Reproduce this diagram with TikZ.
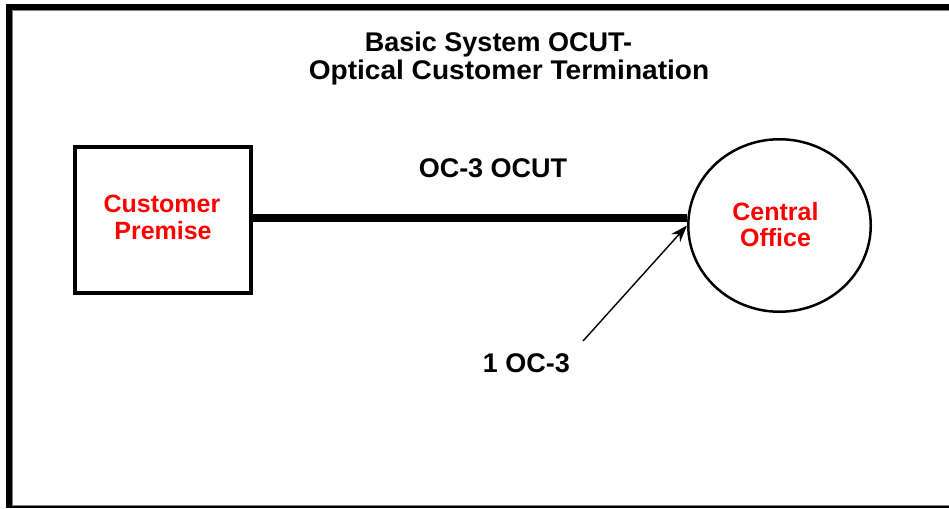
\documentclass[tikz,border=0pt]{standalone}
\usepackage{fontspec}
\setmainfont{Liberation Sans}
\usetikzlibrary{shapes.geometric,arrows.meta}
\begin{document}
\begin{tikzpicture}[x=1pt,y=-1pt,
  blacklbl/.style={font=\fontsize{27}{30}\selectfont\bfseries, inner sep=0pt, anchor=base},
  redlbl/.style={font=\fontsize{25}{27}\selectfont\bfseries, text={rgb,255:red,255;green,0;blue,0}, inner sep=0pt, anchor=base},
  premise/.style={draw, line width=4pt, minimum width=176pt, minimum height=146pt, inner sep=0pt},
  office/.style={ellipse, draw, line width=2.5pt, minimum width=182.5pt, minimum height=172.5pt, inner sep=0pt},
  trunk/.style={line width=7.5pt},
  pointer/.style={line width=1.4pt, -{Stealth[length=17pt,width=12pt]}}]
\useasboundingbox (0,0) rectangle (949,508);
% frame
\draw[line width=6pt] (949,7) -- (9,7) -- (9,508);
\draw[line width=1pt, gray] (949,10.5) -- (12.5,10.5) -- (12.5,505) -- (949,505);
\draw[line width=2pt] (12,507) -- (949,507);
% title
\node[blacklbl] (t1) at (498.5,52) {Basic System OCUT-};
\node[blacklbl, xscale=1.04] (t2) at (509,80) {Optical Customer Termination};
% shapes
\node[premise] (cp) at (163,220) {};
\node[office] (co) at (779.5,225.5) {};
\node[redlbl] (cp1) at (162,212) {Customer};
\node[redlbl] (cp2) at (163,239) {Premise};
\node[redlbl] (co1) at (775.5,220) {Central};
\node[redlbl] (co2) at (775.5,246) {Office};
% connectors
\draw[trunk] (cp.east |- 0,218) -- (co.west |- 0,218);
\node[blacklbl] (l1) at (493,177) {OC-3 OCUT};
\node[blacklbl] (l2) at (526.5,372) {1 OC-3};
\coordinate (tail) at (583,341);
\draw[pointer] (tail) -- (co.west);
\end{tikzpicture}
\end{document}
